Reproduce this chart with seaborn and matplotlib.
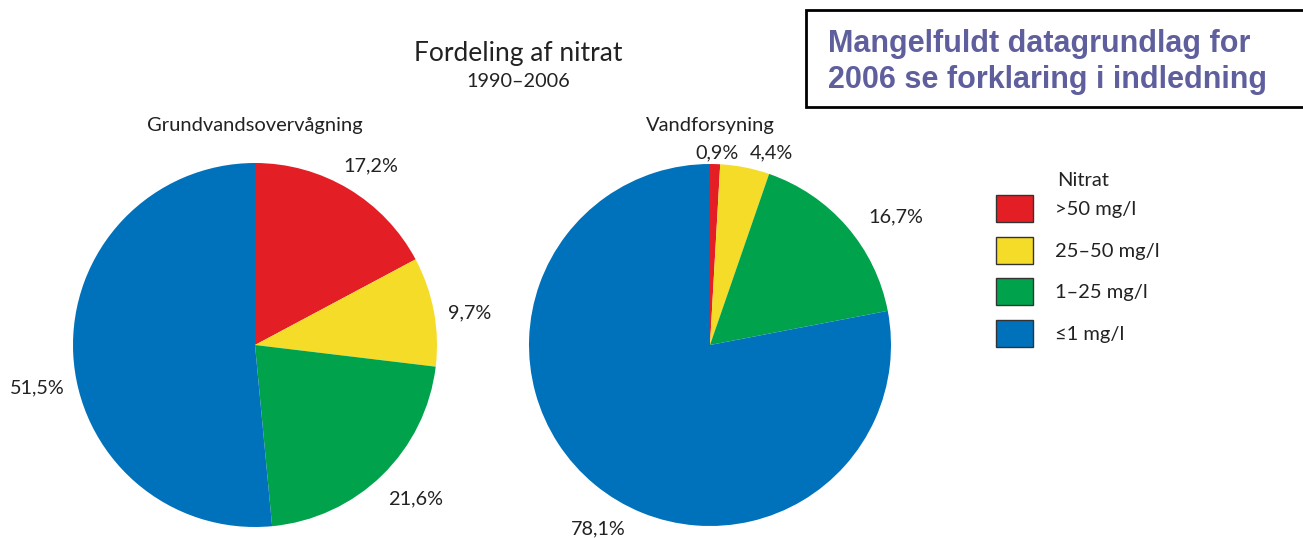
import matplotlib
matplotlib.use("Agg")
import numpy as np
import matplotlib.pyplot as plt
from matplotlib.patches import Patch, Rectangle
import seaborn as sns

# data
categories = [">50 mg/l", "25–50 mg/l", "1–25 mg/l", "≤1 mg/l"]
grundvand = [17.2, 9.7, 21.6, 51.5]
vandforsyning = [0.9, 4.4, 16.7, 78.1]
grundvand_labels = ["17,2%", "9,7%", "21,6%", "51,5%"]
vandforsyning_labels = ["0,9%", "4,4%", "16,7%", "78,1%"]
colors = ["#e41e25", "#f5dc29", "#00a34c", "#0072bc"]

sns.set_theme(style="white")
plt.rcParams["font.family"] = ["Lato", "DejaVu Sans"]
TXT = "#222222"

W, H = 1303, 538
fig = plt.figure(figsize=(W / 100, H / 100), dpi=100)
fig.patch.set_facecolor("white")


def px_axes(cx, cy, r):
    # square axes so that radius 1 == r pixels, limits +-1.3
    half = 1.3 * r
    return fig.add_axes([(cx - half) / W, 1 - (cy + half) / H, 2 * half / W, 2 * half / H])


def draw_pie(ax, values, labels, dist, shift):
    wedges, texts = ax.pie(values, labels=labels, colors=colors, startangle=90,
                           counterclock=False, labeldistance=1.2,
                           wedgeprops=dict(linewidth=0),
                           textprops=dict(fontsize=14.3, color=TXT))
    for w, t, d, s in zip(wedges, texts, dist, shift):
        ang = np.deg2rad((w.theta1 + w.theta2) / 2 + s)
        t.set_position((d * np.cos(ang), d * np.sin(ang)))
        t.set_ha("center")
        t.set_va("center")
    ax.set_xlim(-1.3, 1.3)
    ax.set_ylim(-1.3, 1.3)
    ax.set_aspect("equal")
    ax.axis("off")


ax1 = px_axes(255, 345, 182)
draw_pie(ax1, grundvand, grundvand_labels, [1.17, 1.195, 1.22, 1.22], [-2, -2, 2, 8.5])
ax2 = px_axes(710, 345, 181)
draw_pie(ax2, vandforsyning, vandforsyning_labels, [1.06, 1.115, 1.245, 1.19], [-0.6, -6.7, -6.4, 8.2])

fig.text(255 / W, 1 - 126 / H, "Grundvandsovervågning", ha="center", va="center",
         fontsize=14.5, color=TXT)
fig.text(710 / W, 1 - 126 / H, "Vandforsyning", ha="center", va="center",
         fontsize=14.5, color=TXT)

fig.text(518 / W, 1 - 53 / H, "Fordeling af nitrat", ha="center", va="center",
         fontsize=19, color=TXT)
fig.text(518 / W, 1 - 82 / H, "1990–2006", ha="center", va="center",
         fontsize=14.3, color=TXT)

# legend
handles = [Patch(facecolor=c, edgecolor="#333333", linewidth=1) for c in colors]
fig.legend(handles, categories, loc="upper left",
           bbox_to_anchor=(996 / W, 1 - 195 / H), frameon=False, borderpad=0,
           borderaxespad=0, fontsize=14.5, handleheight=1.69, handlelength=1.85,
           handletextpad=1.1, labelspacing=0.72, labelcolor=TXT)
fig.text(1057 / W, 1 - 180 / H, "Nitrat", ha="left", va="center", fontsize=14.5,
         color=TXT)

# note box
fig.patches.append(Rectangle((806 / W, 1 - 107 / H), (W - 806 + 10) / W, 97 / H,
                             transform=fig.transFigure, facecolor="white",
                             edgecolor="black", linewidth=2))
fig.text(828 / W, 1 - 44 / H, "Mangelfuldt datagrundlag for", ha="left", va="center",
         fontsize=22, fontweight="bold", family="Liberation Sans", color="#5f5f9e")
fig.text(828 / W, 1 - 80 / H, "2006 se forklaring i indledning", ha="left", va="center",
         fontsize=22, fontweight="bold", family="Liberation Sans", color="#5f5f9e")

fig.savefig("out.png", dpi=100)
